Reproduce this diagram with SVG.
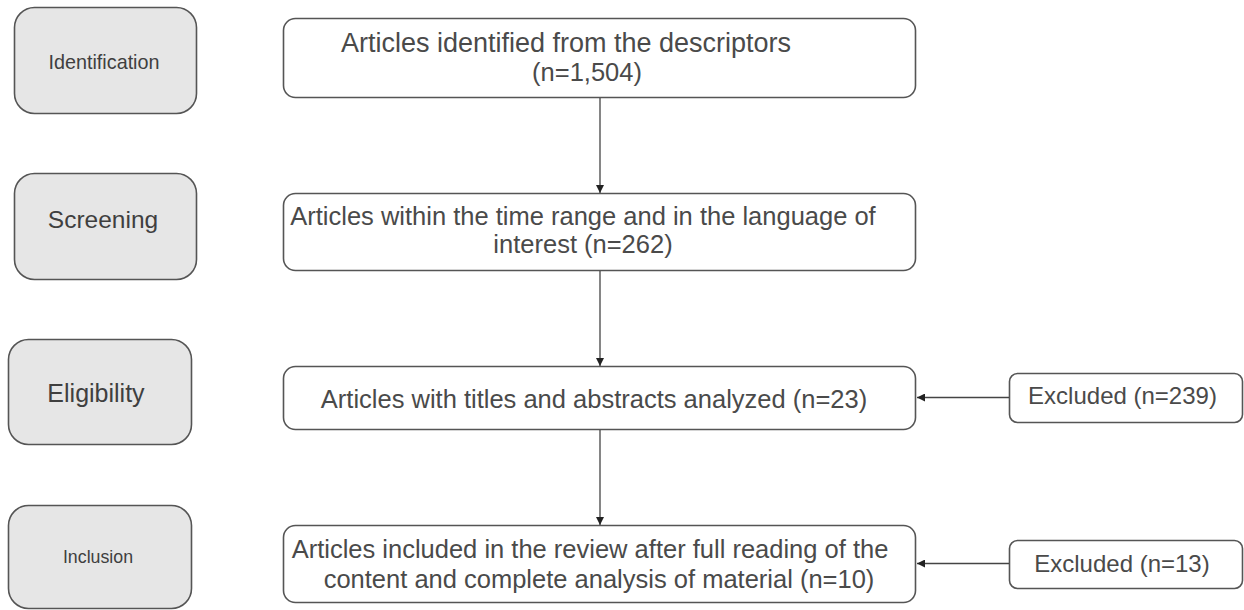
<svg xmlns="http://www.w3.org/2000/svg" width="1244" height="610" viewBox="0 0 1244 610">
<defs>
<style>
.phase{fill:#e6e6e6;stroke:#555;stroke-width:1.6}
.box{fill:#fff;stroke:#555;stroke-width:1.6}
.t{font-family:"Liberation Sans",Arial,sans-serif;fill:#3f3f3f;text-anchor:middle}
.m{font-size:25.5px;fill:#4a4a4a}
.c{stroke:#444;stroke-width:1.3;fill:none;marker-end:url(#ah)}
</style>
<marker id="ah" viewBox="0 0 10 10" refX="10" refY="5" markerWidth="8" markerHeight="8" markerUnits="userSpaceOnUse" orient="auto">
<path d="M0,0 L10,5 L0,10 z" fill="#222"/>
</marker>
</defs>
<rect width="1244" height="610" fill="#fff"/>
<g id="phase-identification">
<rect class="phase" x="14.5" y="7.5" width="182" height="106" rx="20"/>
<text class="t" x="104" y="68.5" style="font-size:19.8px">Identification</text>
</g>
<g id="phase-screening">
<rect class="phase" x="14.5" y="173.5" width="182" height="106" rx="20"/>
<text class="t" x="103" y="228" style="font-size:24.5px">Screening</text>
</g>
<g id="phase-eligibility">
<rect class="phase" x="8.5" y="339.5" width="183" height="105" rx="20"/>
<text class="t" x="96" y="401.5" style="font-size:25px">Eligibility</text>
</g>
<g id="phase-inclusion">
<rect class="phase" x="8.5" y="505.5" width="183" height="103" rx="20"/>
<text class="t" x="98" y="563" style="font-size:17.8px">Inclusion</text>
</g>
<g id="node-identified">
<rect class="box" x="283.5" y="18.5" width="632" height="79" rx="12"/>
<text class="t m" x="566" y="52" style="font-size:27px">Articles identified from the descriptors</text>
<text class="t m" x="587" y="81">(n=1,504)</text>
</g>
<g id="node-screened">
<rect class="box" x="283.5" y="193.5" width="632" height="77" rx="12"/>
<text class="t m" x="583" y="225">Articles within the time range and in the language of</text>
<text class="t m" x="583" y="253">interest (n=262)</text>
</g>
<g id="node-eligible">
<rect class="box" x="283.5" y="366.5" width="632" height="63" rx="12"/>
<text class="t m" x="594" y="408">Articles with titles and abstracts analyzed (n=23)</text>
</g>
<g id="node-included">
<rect class="box" x="283.5" y="525.5" width="632" height="77" rx="12"/>
<text class="t m" x="590" y="558">Articles included in the review after full reading of the</text>
<text class="t m" x="599" y="588">content and complete analysis of material (n=10)</text>
</g>
<g id="node-excluded-239">
<rect class="box" x="1009.5" y="373.5" width="233" height="49" rx="8"/>
<text class="t" x="1122.5" y="403.5" style="font-size:24px;fill:#4a4a4a">Excluded (n=239)</text>
</g>
<g id="node-excluded-13">
<rect class="box" x="1009.5" y="540.5" width="233" height="48" rx="8"/>
<text class="t" x="1122" y="572" style="font-size:24px;fill:#4a4a4a">Excluded (n=13)</text>
</g>
<g id="connectors">
<line class="c" x1="600" y1="98" x2="600" y2="193"/>
<line class="c" x1="600" y1="271" x2="600" y2="366"/>
<line class="c" x1="600" y1="430" x2="600" y2="525"/>
<line class="c" x1="1009" y1="397.5" x2="917" y2="397.5"/>
<line class="c" x1="1009" y1="563.5" x2="917" y2="563.5"/>
</g>
</svg>
